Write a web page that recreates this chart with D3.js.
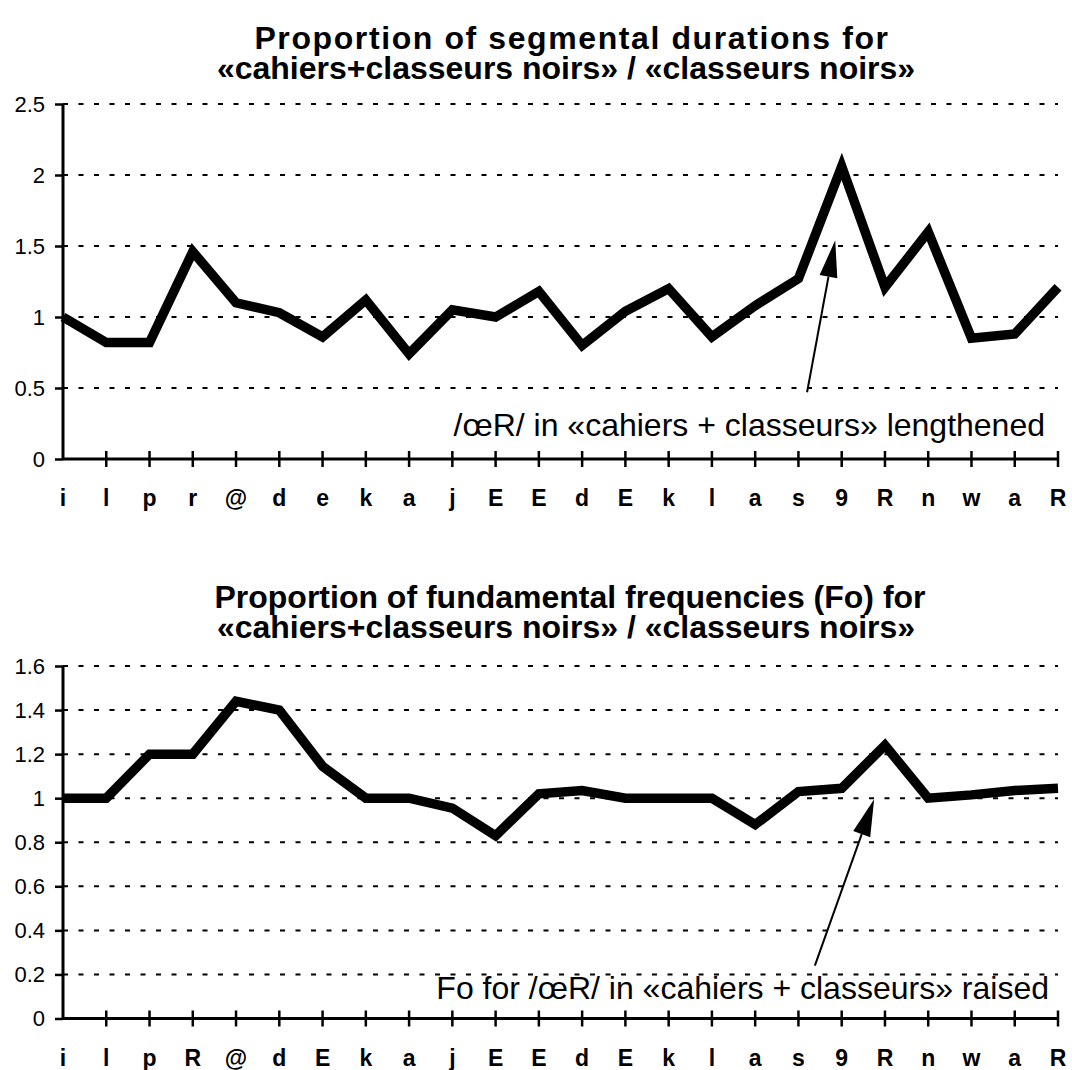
<!DOCTYPE html>
<html>
<head>
<meta charset="utf-8">
<script src="https://cdn.jsdelivr.net/npm/d3@7"></script>
<style>
  html, body { margin: 0; padding: 0; background: #fff; }
  svg text { font-family: Arial, "Liberation Sans", Helvetica, sans-serif; fill: #000; }
</style>
</head>
<body>
<svg id="chart" width="1072" height="1070"></svg>
<script>
// Segment labels (SAMPA) along the utterance
const durationSegments = ["i","l","p","r","@","d","e","k","a","j","E","E","d","E","k","l","a","s","9","R","n","w","a","R"];
const f0Segments = ["i","l","p","R","@","d","E","k","a","j","E","E","d","E","k","l","a","s","9","R","n","w","a","R"];

// Ratio «cahiers+classeurs noirs» / «classeurs noirs» per segment
const durationRatio = [1.0, 0.82, 0.82, 1.46, 1.10, 1.03, 0.86, 1.12, 0.74, 1.05, 1.0, 1.18,
                       0.80, 1.04, 1.20, 0.86, 1.08, 1.27, 2.06, 1.21, 1.60, 0.85, 0.88, 1.21];
const f0Ratio = [1.0, 1.0, 1.2, 1.2, 1.44, 1.40, 1.145, 1.0, 1.0, 0.955, 0.83, 1.02,
                 1.035, 1.0, 1.0, 1.0, 0.88, 1.03, 1.045, 1.24, 1.0, 1.015, 1.035, 1.045];

// Value-axis ticks
const durationTicks = [0, 0.5, 1, 1.5, 2, 2.5];
const f0Ticks = [0, 0.2, 0.4, 0.6, 0.8, 1, 1.2, 1.4, 1.6];

// Titles and callouts
const durationTitle = ["Proportion of segmental durations for", "«cahiers+classeurs noirs» / «classeurs noirs»"];
const f0Title = ["Proportion of fundamental frequencies (Fo) for", "«cahiers+classeurs noirs» / «classeurs noirs»"];
const durationNote = "/œR/ in «cahiers + classeurs» lengthened";
const f0Note = "Fo for /œR/ in «cahiers + classeurs» raised";
// arrow tail and head in data units (segment index, ratio)
const durationArrow = [[17.2, 0.47], [17.85, 1.54]];
const f0Arrow = [[17.38, 0.24], [18.75, 0.995]];

const svg = d3.select("#chart");

function drawPanel(opt) {
  const g = svg.append("g");
  const x = d3.scaleLinear().domain([0, opt.segments.length - 1]).range([63, 1058]);
  const y = d3.scaleLinear().domain([0, opt.yMax]).range([opt.yBottom, opt.yTop]);

  // two-line bold title
  g.selectAll("text.title").data(opt.title).join("text")
    .attr("class", "title")
    .attr("x", (d, i) => opt.titleX[i])
    .attr("y", (d, i) => opt.titleY + i * 30)
    .attr("text-anchor", "middle")
    .style("font-size", "32px")
    .style("font-weight", "bold")
    .style("letter-spacing", (d, i) => opt.titleTracking[i] + "px")
    .text(d => d);

  // dotted gridlines
  g.selectAll("line.grid").data(opt.ticks.filter(t => t > 0)).join("line")
    .attr("class", "grid")
    .attr("x1", x(0)).attr("x2", x(opt.segments.length - 1))
    .attr("y1", d => y(d)).attr("y2", d => y(d))
    .attr("stroke", "#000").attr("stroke-width", 2)
    .attr("stroke-dasharray", "5,10.5");

  // y axis
  const yAxis = d3.axisLeft(y).tickValues(opt.ticks).tickSize(8).tickPadding(10)
    .tickFormat(d => String(d));
  const ya = g.append("g").attr("transform", `translate(${x(0)},0)`).call(yAxis);
  ya.select(".domain").attr("stroke", "#000").attr("stroke-width", 3).attr("d", `M0,${y(0)}V${y(opt.yMax)}`);
  ya.selectAll(".tick line").attr("stroke-width", 2.5);
  ya.selectAll(".tick text").style("font-size", "22px").style("font-family", "Arial, 'Liberation Sans', sans-serif");

  // x axis with crossing ticks
  const xa = g.append("g");
  xa.append("line")
    .attr("x1", x(0)).attr("x2", x(opt.segments.length - 1))
    .attr("y1", y(0)).attr("y2", y(0))
    .attr("stroke", "#000").attr("stroke-width", 3);
  xa.selectAll("line.xt").data(d3.range(1, opt.segments.length)).join("line")
    .attr("class", "xt")
    .attr("x1", d => x(d)).attr("x2", d => x(d))
    .attr("y1", y(0) - 8).attr("y2", y(0) + 8)
    .attr("stroke", "#000").attr("stroke-width", 2.5);
  xa.selectAll("text.xl").data(opt.segments).join("text")
    .attr("class", "xl")
    .attr("x", (d, i) => x(i))
    .attr("y", y(0) + 47)
    .attr("text-anchor", "middle")
    .style("font-size", "23px")
    .style("font-weight", "bold")
    .text(d => d);

  // data line
  const line = d3.line().x((d, i) => x(i)).y(d => y(d));
  g.append("path").datum(opt.values)
    .attr("d", line)
    .attr("fill", "none").attr("stroke", "#000")
    .attr("stroke-width", 9.5).attr("stroke-linejoin", "miter").attr("stroke-miterlimit", 10);

  // callout text
  g.append("text")
    .attr("x", x(opt.segments.length - 1) - opt.noteInset)
    .attr("y", opt.noteY)
    .attr("text-anchor", "end")
    .style("font-size", "32px")
    .text(opt.note);

  // callout arrow
  const [t0, t1] = opt.arrow;
  const p0 = [x(t0[0]), y(t0[1])], p1 = [x(t1[0]), y(t1[1])];
  const ang = Math.atan2(p1[1] - p0[1], p1[0] - p0[0]);
  const headLen = 37, headHalf = 9;
  const bx = p1[0] - headLen * Math.cos(ang), by = p1[1] - headLen * Math.sin(ang);
  g.append("line")
    .attr("x1", p0[0]).attr("y1", p0[1]).attr("x2", bx).attr("y2", by)
    .attr("stroke", "#000").attr("stroke-width", 2);
  const nx = -Math.sin(ang), ny = Math.cos(ang);
  g.append("path")
    .attr("d", d3.line()([p1, [bx + nx * headHalf, by + ny * headHalf], [bx - nx * headHalf, by - ny * headHalf]]) + "Z")
    .attr("fill", "#000");
}

drawPanel({
  segments: durationSegments, values: durationRatio, ticks: durationTicks,
  yMax: 2.5, yTop: 104, yBottom: 459,
  title: durationTitle, titleX: [572, 566], titleY: 49, titleTracking: [1.6, 0],
  note: durationNote, noteY: 436, noteInset: 13, arrow: durationArrow
});

drawPanel({
  segments: f0Segments, values: f0Ratio, ticks: f0Ticks,
  yMax: 1.6, yTop: 666, yBottom: 1018.5,
  title: f0Title, titleX: [570, 566], titleY: 608, titleTracking: [0, 0],
  note: f0Note, noteY: 999, noteInset: 9, arrow: f0Arrow
});
</script>
</body>
</html>
